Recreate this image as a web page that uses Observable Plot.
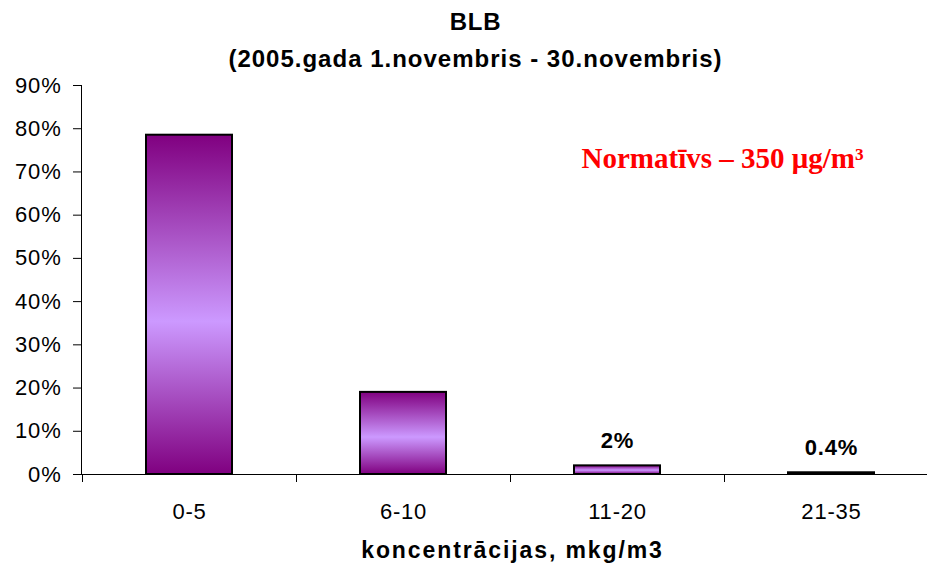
<!DOCTYPE html>
<html><head><meta charset="utf-8">
<script src="https://cdn.jsdelivr.net/npm/d3@7"></script>
<script src="https://cdn.jsdelivr.net/npm/@observablehq/plot@0.6"></script>
<style>html,body{margin:0;padding:0;background:#fff} svg{display:block}</style>
</head><body><div id="chart"></div>
<script>
const categories = ["0-5", "6-10", "11-20", "21-35"];
const values = [78.5, 19, 2, 0.4];
const valueLabels = ["", "", "2%", "0.4%"];
const yTicks = [0, 10, 20, 30, 40, 50, 60, 70, 80, 90];
const title = "BLB";
const subtitle = "(2005.gada 1.novembris - 30.novembris)";
const xLabel = "koncentrācijas, mkg/m3";
const note = "Normatīvs – 350 μg/m³";

const data = categories.map((c, i) => ({c, v: values[i], label: valueLabels[i]}));
const sans = "'Liberation Sans', Arial, sans-serif";

const chart = Plot.plot({
  width: 927, height: 567,
  marginLeft: 81, marginRight: 0, marginTop: 85, marginBottom: 93,
  style: {fontFamily: sans, background: "#fff", color: "#000", overflow: "visible", letterSpacing: "0.8px"},
  x: {domain: categories, range: [81, 939], paddingInner: 0.6, paddingOuter: 0.3, label: null},
  y: {domain: [0, 90], label: null},
  marks: [
    Plot.axisY({ticks: yTicks, tickFormat: d => d + "%", tickSize: 8, tickPadding: 12, fontSize: 22, label: null}),
    Plot.axisX({tickSize: 0, tickPadding: 29, fontSize: 22, label: null}),
    Plot.barY(data, {x: "c", y: "v", fill: "url(#barGrad)", stroke: "#000", strokeWidth: 2}),
    Plot.ruleY([0], {stroke: "#000"}),
    Plot.frame({anchor: "left", stroke: "#000"}),
    Plot.text(data, {x: "c", y: "v", text: "label", dy: -18, lineAnchor: "bottom", fontWeight: "bold", fontSize: 22}),
    Plot.text([title], {frameAnchor: "top-left", dx: 394, dy: -56, lineAnchor: "bottom", textAnchor: "middle", fontWeight: "bold", fontSize: 24}),
    Plot.text([subtitle], {frameAnchor: "top-left", dx: 394, dy: -19, lineAnchor: "bottom", textAnchor: "middle", fontWeight: "bold", fontSize: 24}),
    Plot.text([xLabel], {frameAnchor: "bottom", dx: 8, dy: 83, lineAnchor: "bottom", textAnchor: "middle", fontWeight: "bold", fontSize: 23}),
    Plot.text([note], {frameAnchor: "top-left", dx: 500, dy: 82, lineAnchor: "bottom", textAnchor: "start", fontWeight: "bold", fontSize: 29, fill: "#ff0000", fontFamily: "'Liberation Serif', 'Times New Roman', serif"})
  ]
});

const svg = d3.select(chart);
const defs = svg.insert("defs", ":first-child");
const grad = defs.append("linearGradient").attr("id", "barGrad")
  .attr("x1", 0).attr("y1", 0).attr("x2", 0).attr("y2", 1);
grad.append("stop").attr("offset", "0%").attr("stop-color", "#800080");
grad.append("stop").attr("offset", "55%").attr("stop-color", "#cc99ff");
grad.append("stop").attr("offset", "100%").attr("stop-color", "#800080");

svg.selectAll("text").filter(function () { return this.textContent === note; }).attr("letter-spacing", "0px");
svg.selectAll("text").filter(function () { return this.textContent === xLabel; }).attr("letter-spacing", "1.9px");
svg.selectAll("text").filter(function () { return this.textContent === subtitle; }).attr("letter-spacing", "1px");

// Excel-style ticks between categories on the x axis
const xs = chart.scale("x");
const ys = chart.scale("y");
const y0 = ys.apply(0);
const half = (xs.step - xs.bandwidth) / 2;
svg.append("g").attr("stroke", "#000")
  .selectAll("line").data(categories).join("line")
  .attr("x1", c => xs.apply(c) - half + 0.5).attr("x2", c => xs.apply(c) - half + 0.5)
  .attr("y1", y0).attr("y2", y0 + 8);

document.getElementById("chart").appendChild(chart);
</script>
</body></html>
